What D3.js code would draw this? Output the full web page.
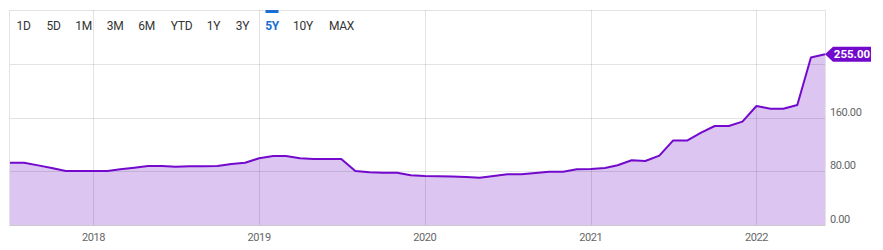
<!DOCTYPE html>
<html>
<head>
<meta charset="utf-8">
<script src="https://cdn.jsdelivr.net/npm/d3@7"></script>
<style>
  html, body { margin: 0; padding: 0; background: #fff; }
  svg { display: block; font-family: Roboto, "Noto Sans", sans-serif; }
</style>
</head>
<body>
<svg id="chart" width="883" height="250"></svg>
<script>
// ---- data ----
const startMonth = "2017-07-01";
const endMonth = "2022-07-01";
const values = [
  93.0, 93.0, 89.0, 85.0, 80.6, 80.6, 80.6, 80.6, 83.2, 85.6,
  88.1, 88.1, 87.1, 87.6, 87.6, 88.1, 91.1, 93.0, 99.6, 103.0,
  103.0, 99.6, 98.6, 98.6, 98.6, 80.6, 78.7, 78.1, 78.1, 74.2,
  73.2, 72.8, 72.3, 71.6, 70.6, 73.2, 75.7, 75.7, 77.7, 79.6,
  79.6, 83.2, 83.6, 85.1, 89.2, 96.6, 95.6, 103.5, 126.0, 126.0,
  137.8, 147.8, 147.8, 154.3, 177.7, 173.7, 173.7, 179.2, 250.0, 255.0
];
const yTicks = [0, 80, 160, 240];
const yLabelTicks = [0, 80, 160];
const xTickYears = ["2018", "2019", "2020", "2021", "2022"];
const ranges = ["1D", "5D", "1M", "3M", "6M", "YTD", "1Y", "3Y", "5Y", "10Y", "MAX"];
const activeRange = "5Y";
const lastLabel = "255.00";

(function () {
// ---- layout ----
const svg = d3.select("#chart");
const pL = 10, pR = 825, pT = 10, pB = 225;
const months = d3.utcMonth.range(new Date(startMonth), new Date(endMonth));
const data = months.map((d, i) => ({ date: d, value: values[i] }));

const x = d3.scaleUtc()
  .domain([months[0], months[months.length - 1]])
  .range([pL, pR]);
const y = d3.scaleLinear().domain([0, 321]).range([pB, pT]);

const lineColor = "#7209cc";
const fillColor = "#dcc6f1";

svg.append("rect")
  .attr("x", pL).attr("y", pT)
  .attr("width", pR - pL).attr("height", pB - pT)
  .attr("fill", "#fff");

const area = d3.area()
  .x(d => x(d.date)).y0(y(0)).y1(d => y(d.value));
svg.append("path").datum(data)
  .attr("d", area).attr("fill", fillColor);

const grid = svg.append("g");
grid.selectAll("line.h").data(yTicks).join("line")
  .attr("x1", pL).attr("x2", pR)
  .attr("y1", d => Math.round(y(d)) + 0.5).attr("y2", d => Math.round(y(d)) + 0.5)
  .attr("stroke", "rgba(0,0,0,0.11)");
const yearDates = xTickYears.map(s => new Date(s + "-01-01"));
grid.selectAll("line.v").data(yearDates).join("line")
  .attr("x1", d => Math.round(x(d)) + 0.5).attr("x2", d => Math.round(x(d)) + 0.5)
  .attr("y1", pT).attr("y2", pB)
  .attr("stroke", "rgba(0,0,0,0.11)");

svg.append("rect")
  .attr("x", pL - 0.5).attr("y", pT + 0.5)
  .attr("width", pR - pL + 1).attr("height", pB - pT)
  .attr("fill", "none").attr("stroke", "rgba(0,0,0,0.11)");

const line = d3.line().x(d => x(d.date)).y(d => y(d.value));
svg.append("path").datum(data)
  .attr("d", line).attr("fill", "none")
  .attr("stroke", lineColor).attr("stroke-width", 2)
  .attr("stroke-linejoin", "round");

svg.append("g").selectAll("text").data(yearDates).join("text")
  .attr("x", d => x(d)).attr("y", 241)
  .attr("text-anchor", "middle")
  .attr("font-size", 11).attr("letter-spacing", -0.4)
  .attr("fill", "#666")
  .text((d, i) => xTickYears[i]);

svg.append("g").selectAll("text").data(yLabelTicks).join("text")
  .attr("x", 830).attr("y", d => y(d) - 2)
  .attr("font-size", 11).attr("letter-spacing", -0.4)
  .attr("fill", "#666")
  .text(d => d.toFixed(2));

const last = data[data.length - 1];
const by = y(last.value), bx = x(last.date);
svg.append("path")
  .attr("d", `M${bx},${by} L${bx + 8},${by - 7.5} L${bx + 46},${by - 7.5} L${bx + 46},${by + 7.5} L${bx + 8},${by + 7.5} Z`)
  .attr("fill", lineColor);
svg.append("text")
  .attr("x", bx + 27).attr("y", by + 4)
  .attr("text-anchor", "middle")
  .attr("font-size", 11.5).attr("font-weight", "bold")
  .attr("fill", "#fff")
  .text(lastLabel);

const btnX = [23.5, 53.5, 83.5, 115, 146.5, 181.5, 213.5, 242.5, 272, 303, 341.5];
const bg = svg.append("g");
bg.selectAll("text").data(ranges).join("text")
  .attr("x", (d, i) => btnX[i]).attr("y", 30)
  .attr("text-anchor", "middle")
  .attr("font-size", 12).attr("letter-spacing", -0.3)
  .attr("font-weight", d => d === activeRange ? "bold" : "normal")
  .attr("fill", d => d === activeRange ? "#1a6fd1" : "#333")
  .text(d => d);
const ai = ranges.indexOf(activeRange);
bg.append("rect")
  .attr("x", btnX[ai] - 6.5).attr("y", 10)
  .attr("width", 13).attr("height", 3)
  .attr("fill", "#1a6fd1");
})();
</script>
</body>
</html>
